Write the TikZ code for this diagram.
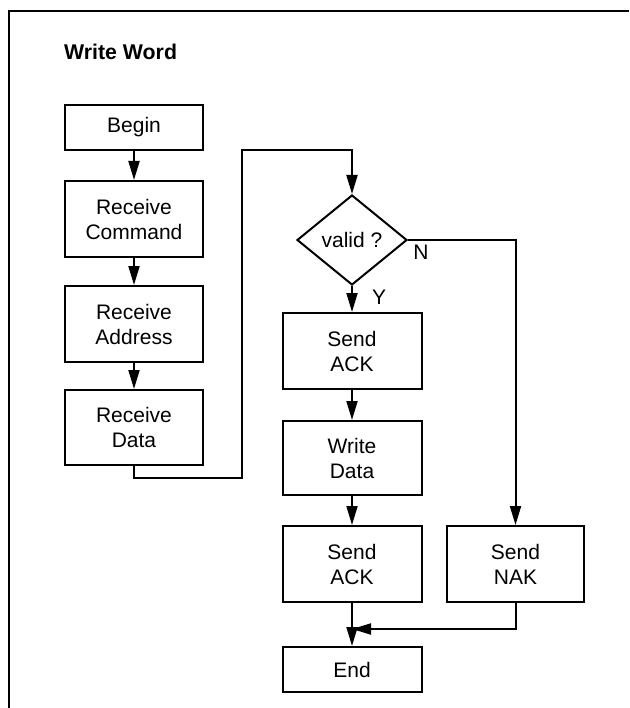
\documentclass[tikz,border=0pt]{standalone}
\usepackage{fontspec}
\setmainfont{Liberation Sans}
\usetikzlibrary{shapes.geometric,arrows.meta}
\begin{document}
\begin{tikzpicture}[x=1pt,y=-1pt,
  every node/.style={font=\fontsize{21}{25}\selectfont},
  box/.style={draw,line width=2pt,minimum width=138pt,align=center,inner sep=0pt},
  dec/.style={draw,diamond,line width=2pt,minimum width=110pt,minimum height=90pt,aspect=1.22,inner sep=0pt},
  arr/.style={line width=2pt,-{Triangle[length=19pt,width=11pt]}},
  lbl/.style={inner sep=0pt}]
\useasboundingbox (0,0) rectangle (629,708);
\draw[line width=2pt] (9,708) -- (9,11) -- (629,11);
\node[anchor=west,font=\fontsize{21.3}{25}\selectfont\bfseries,inner sep=0pt] (title) at (64,52) {Write Word};
\node[box,minimum height=45pt] (begin) at (134,127.5) {Begin};
\node[box,minimum height=76pt] (rc) at (134,219) {Receive\\Command};
\node[box,minimum height=76pt] (ra) at (134,324) {Receive\\Address};
\node[box,minimum height=75pt] (rd) at (134,427.5) {Receive\\Data};
\node[dec] (valid) at (352,240) {valid ?};
\node[box,minimum width=139pt,minimum height=76pt] (ack1) at (352,351) {Send\\ACK};
\node[box,minimum width=139pt,minimum height=74pt] (wd) at (352,458) {Write\\Data};
\node[box,minimum width=139pt,minimum height=76pt] (ack2) at (352,564) {Send\\ACK};
\node[box,minimum width=137pt,minimum height=76pt] (nak) at (515.5,564) {Send\\NAK};
\node[box,minimum width=139pt,minimum height=45pt] (end) at (352,669.5) {End};
\node[lbl] (n) at (421,252) {N};
\node[lbl] (y) at (379,297) {Y};
\coordinate (c1) at (242,478);
\coordinate (c2) at (242,150);
\coordinate (m) at (352,629);
\draw[arr] (begin) -- (rc);
\draw[arr] (rc) -- (ra);
\draw[arr] (ra) -- (rd);
\draw[arr] (rd.south) |- (c1) -- (c2) -| (valid.north);
\draw[arr] (valid.south) -- (ack1.north);
\draw[arr] (valid.east) -| (nak.north);
\draw[arr] (ack1) -- (wd);
\draw[arr] (wd) -- (ack2);
\draw[arr] (ack2) -- (end);
\draw[arr] (nak.south) |- (m);
\end{tikzpicture}
\end{document}
